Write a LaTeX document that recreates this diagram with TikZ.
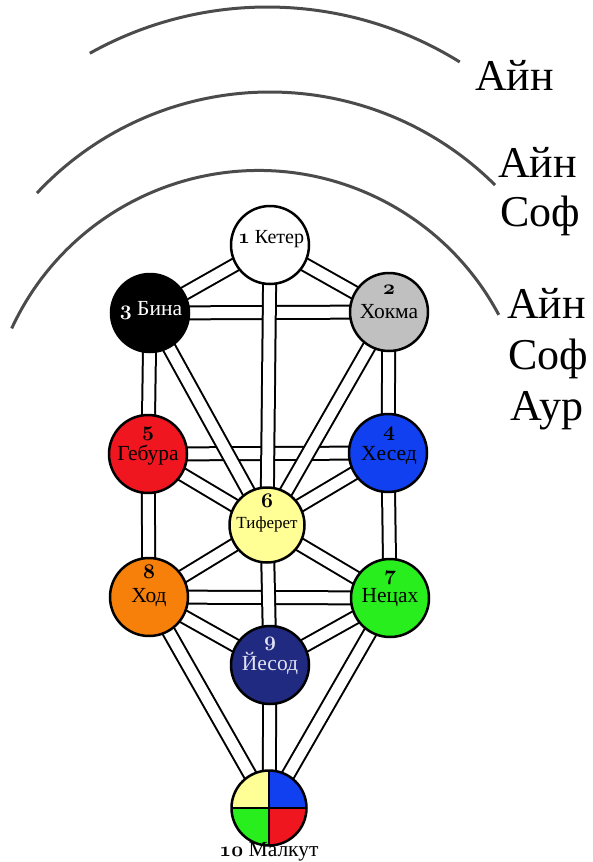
\documentclass[tikz,border=0pt]{standalone}
\usepackage{fontspec}
\setmainfont{Liberation Serif}
\usepackage{tikz}
\usetikzlibrary{positioning, backgrounds}
\definecolor{ringgray}{RGB}{75,75,75}
\definecolor{hokmagray}{RGB}{192,192,192}
\definecolor{geburared}{RGB}{240,22,32}
\definecolor{hesedblue}{RGB}{16,64,240}
\definecolor{tiferetyellow}{RGB}{255,255,150}
\definecolor{hodorange}{RGB}{247,128,10}
\definecolor{netzachgreen}{RGB}{40,238,30}
\definecolor{yesodblue}{RGB}{32,42,128}
\definecolor{yesodtext}{RGB}{225,225,240}
\newcommand{\osnum}[1]{{\usefont{OML}{cmm}{b}{it}#1}}

\begin{document}
\begin{tikzpicture}[x=1pt, y=-1pt,
    sefira/.style={circle, draw=black, line width=2.5pt, minimum size=78pt, inner sep=0pt, outer sep=0pt},
    path22/.style={draw=black, line width=2pt, double=white, double distance=11pt},
    ring/.style={draw=ringgray, line width=3pt},
    sname/.style={anchor=base, inner sep=0pt, text=black, font=\fontsize{21.5}{23}\selectfont},
    outer/.style={anchor=base west, inner sep=0pt, font=\fontsize{44}{50}\selectfont}]
  \useasboundingbox (0,0) rectangle (592,862);%page size
  \draw[ring] (267.4,371) ++(-119.2:364) arc[start angle=-119.2, end angle=-58.1, radius=364];%outer ring
  \draw[ring] (269.9,411) ++(-136.9:319) arc[start angle=-136.9, end angle=-45.1, radius=319];%middle ring
  \draw[ring] (258.6,442.5) ++(-155.2:272) arc[start angle=-155.2, end angle=-28.0, radius=272];%inner ring
  \node (ain1) [outer] at (475,90) {Айн};%ring label
  \node (ain2) [outer] at (498,177) {Айн};%ring label
  \node (sof2) [outer] at (500,226) {Соф};%ring label
  \node (ain3) [outer] at (507,318) {Айн};%ring label
  \node (sof3) [outer] at (508,369) {Соф};%ring label
  \node (aur3) [outer] at (510,420) {Аур};%ring label
  \node (keter) [sefira, fill=white] at (270,245) {};%draws Keter
  \node (hokma) [sefira, fill=hokmagray] at (389,312) {};%draws Hokma
  \node (bina) [sefira, fill=black] at (150,313) {};%draws Bina
  \node (hesed) [sefira, fill=hesedblue] at (388,453) {};%draws Hesed
  \node (gebura) [sefira, fill=geburared] at (148,454) {};%draws Gebura
  \node (tiferet) [sefira, fill=tiferetyellow, minimum size=75pt] at (267,525) {};%draws Tiferet
  \node (netzach) [sefira, fill=netzachgreen] at (390,598) {};%draws Netzach
  \node (hod) [sefira, fill=hodorange] at (149,597) {};%draws Hod
  \node (yesod) [sefira, fill=yesodblue] at (270,665) {};%draws Yesod
  \node (malkut) [sefira, minimum size=75pt, path picture={
      \fill[tiferetyellow] (path picture bounding box.center) rectangle (path picture bounding box.north west);
      \fill[hesedblue] (path picture bounding box.center) rectangle (path picture bounding box.north east);
      \fill[netzachgreen] (path picture bounding box.center) rectangle (path picture bounding box.south west);
      \fill[geburared] (path picture bounding box.center) rectangle (path picture bounding box.south east);
      \draw[line width=2pt] (path picture bounding box.north) -- (path picture bounding box.south)
        (path picture bounding box.west) -- (path picture bounding box.east);}] at (269,808) {};%draws Malkut in four parts
  \begin{scope}[on background layer]
    \foreach \a/\b in {bina/hokma, gebura/hesed, hod/netzach}
      \draw[path22] (\a.center) -- (\b.center);%cross paths
    \foreach \a/\b in {keter/bina, keter/hokma, bina/tiferet, hokma/tiferet, gebura/tiferet, hesed/tiferet,
        tiferet/hod, tiferet/netzach, hod/yesod, netzach/yesod, hod/malkut, netzach/malkut}
      \draw[path22] (\a.center) -- (\b.center);%slanted paths
    \foreach \a/\b in {bina/gebura, gebura/hod, hokma/hesed, hesed/netzach, keter/tiferet, tiferet/yesod, yesod/malkut}
      \draw[path22] (\a.center) -- (\b.center);%upright paths
  \end{scope}
  \node (ketername) [sname, font=\fontsize{20}{22}\selectfont] at (271,243) {\osnum{1} Кетер};%Keter text
  \node (hokmanum) [sname] at (389,294) {\osnum{2}};%Hokma number
  \node (hokmaname) [sname] at (389,318) {Хокма};%Hokma text
  \node (binaname) [sname, text=white] at (151,315) {\osnum{3} Бина};%Bina text
  \node (hesednum) [sname] at (389,436) {\osnum{4}};%Hesed number
  \node (hesedname) [sname] at (389,460) {Хесед};%Hesed text
  \node (geburanum) [sname] at (148,436) {\osnum{5}};%Gebura number
  \node (geburaname) [sname] at (148,460) {Гебура};%Gebura text
  \node (tiferetnum) [sname] at (267,507) {\osnum{6}};%Tiferet number
  \node (tiferetname) [sname, font=\fontsize{17}{19}\selectfont] at (267,528) {Тиферет};%Tiferet text
  \node (netzachnum) [sname] at (390,580) {\osnum{7}};%Netzach number
  \node (netzachname) [sname] at (390,602) {Нецах};%Netzach text
  \node (hodnum) [sname] at (149,578) {\osnum{8}};%Hod number
  \node (hodname) [sname] at (149,602) {Ход};%Hod text
  \node (yesodnum) [sname, text=yesodtext] at (270,646) {\osnum{9}};%Yesod number
  \node (yesodname) [sname, text=yesodtext] at (270,670) {Йесод};%Yesod text
  \node (malkutname) [sname] at (269,856) {\osnum{10} Малкут};%Malkut text
\end{tikzpicture}
\end{document}
